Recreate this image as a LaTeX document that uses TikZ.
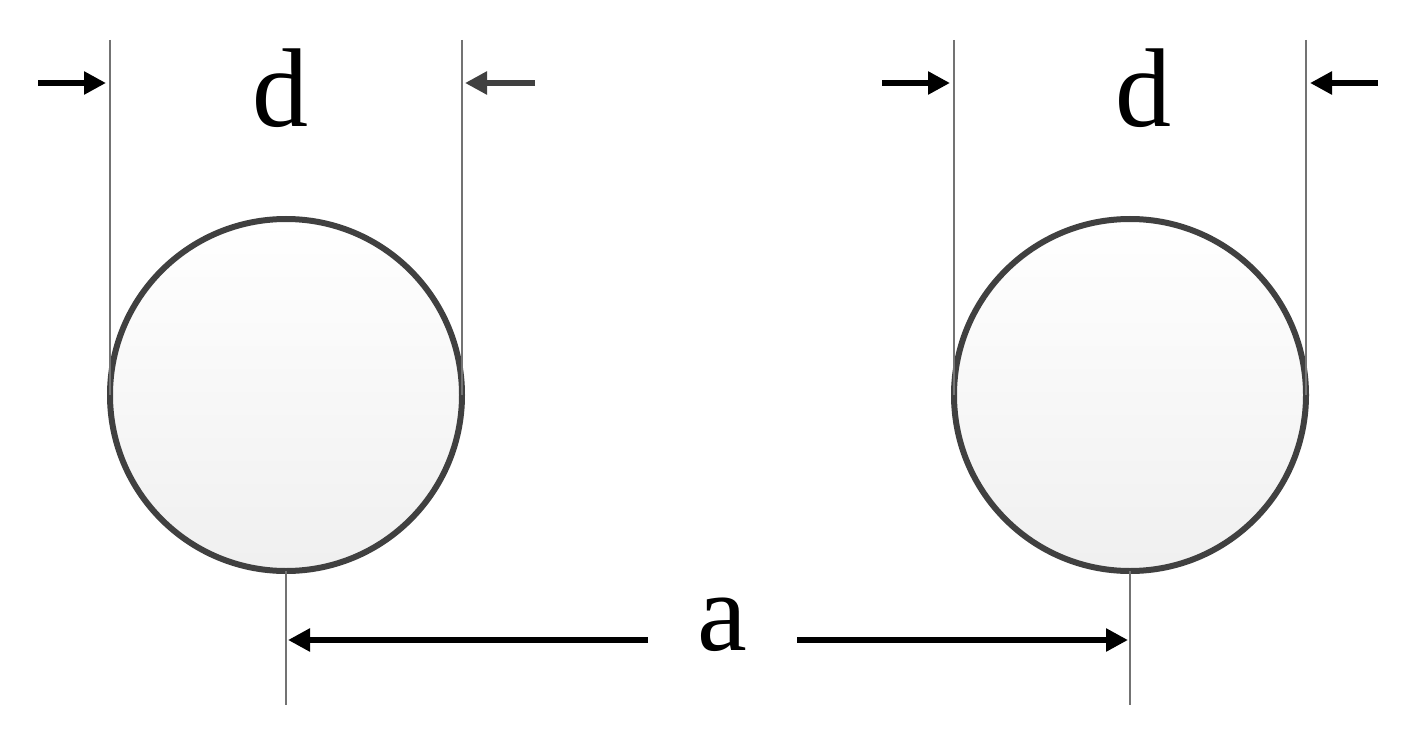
\documentclass[tikz,border=0pt]{standalone}
\usepackage{fontspec}
\setmainfont{Liberation Serif}
\usetikzlibrary{arrows.meta}
\begin{document}
\begin{tikzpicture}[x=1pt,y=-1pt,
  thin line/.style={draw=black!55,line width=1.5pt},
  dimarrow/.style={line width=6pt,-{Triangle[length=22pt,width=22pt]}},
  ball/.style={circle,minimum size=352pt,draw=black!75,line width=6pt,inner sep=0pt,outer sep=0pt,top color=white,bottom color=black!6},
  lbl/.style={font=\fontsize{112}{112}\selectfont,inner sep=0pt}]
\useasboundingbox (0,0) rectangle (1408,738);
\node[ball] (c1) at (286,395) {};
\node[ball] (c2) at (1130,395) {};
\coordinate (t1l) at (c1.west |- 0,40); \coordinate (t1r) at (c1.east |- 0,40);
\coordinate (t2l) at (c2.west |- 0,40); \coordinate (t2r) at (c2.east |- 0,40);
\draw[thin line] (t1l) -- (c1.west);
\draw[thin line] (t1r) -- (c1.east);
\draw[thin line] (t2l) -- (c2.west);
\draw[thin line] (t2r) -- (c2.east);
\coordinate (b1) at (286,705); \coordinate (b2) at (1130,705);
\draw[thin line] (c1.south) -- (b1);
\draw[thin line] (c2.south) -- (b2);
\node[lbl] (d1) at (280,88) {d};
\node[lbl] (d2) at (1143,88) {d};
\node[lbl] (a) at (722,625) {a};
\coordinate (a1s) at (38,83); \coordinate (a1e) at (106,83);
\coordinate (a2s) at (535,83); \coordinate (a2e) at (465,83);
\coordinate (a3s) at (882,83); \coordinate (a3e) at (950,83);
\coordinate (a4s) at (1378,83); \coordinate (a4e) at (1310,83);
\draw[dimarrow] (a1s) -- (a1e);
\draw[dimarrow,draw=black!75,fill=black!75] (a2s) -- (a2e);
\draw[dimarrow] (a3s) -- (a3e);
\draw[dimarrow] (a4s) -- (a4e);
\coordinate (l1) at (648,640); \coordinate (l2) at (288,640);
\coordinate (r1) at (797,640); \coordinate (r2) at (1128,640);
\draw[dimarrow] (l1) -- (l2);
\draw[dimarrow] (r1) -- (r2);
\end{tikzpicture}
\end{document}
